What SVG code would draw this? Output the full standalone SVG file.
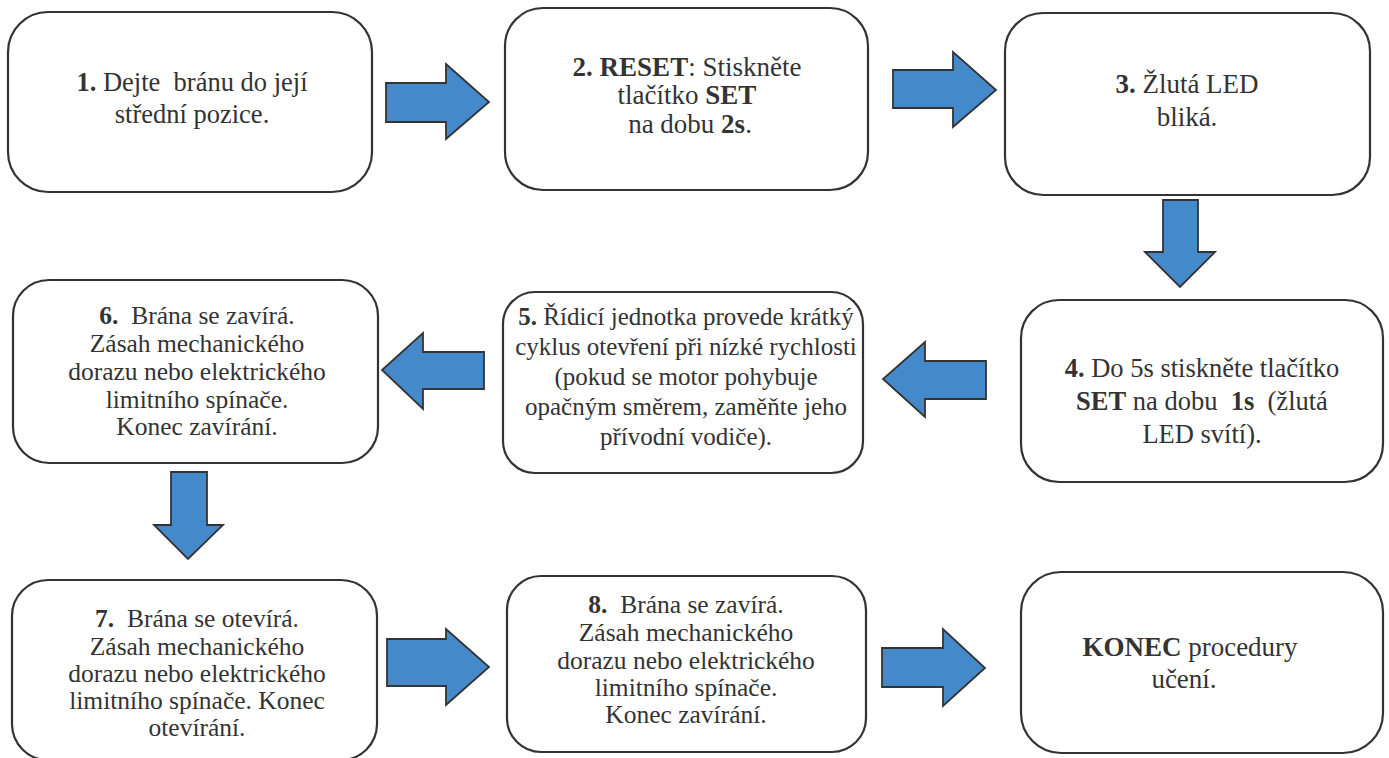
<svg xmlns="http://www.w3.org/2000/svg" width="1389" height="758" viewBox="0 0 1389 758">
  <style>
    .box { fill: #ffffff; stroke: #333333; stroke-width: 2.2; }
    .arrow { fill: #4489c9; stroke: #333333; stroke-width: 1.8; stroke-linejoin: miter; }
    .lbl { fill: #333333; text-anchor: middle; white-space: pre; }
    .b { font-weight: bold; }
  </style>
  <rect width="1389" height="758" fill="#ffffff"/>

  <!-- connectors: block arrows between steps -->
  <g id="connectors">
    <polygon class="arrow" points="386,83 446,83 446,64 489,102 446,139 446,122 386,122"/>
    <polygon class="arrow" points="893,70 953,70 953,52 996,90 953,127 953,108 893,108"/>
    <polygon class="arrow" points="1163,200 1198,200 1198,252 1215,252 1180,287 1145,252 1163,252"/>
    <polygon class="arrow" points="986,361 925,361 925,342 883,379 925,417 925,399 986,399"/>
    <polygon class="arrow" points="484,352 423,352 423,333 382,370 423,409 423,389 484,389"/>
    <polygon class="arrow" points="171,472 207,472 207,525 223,525 188,559 154,525 171,525"/>
    <polygon class="arrow" points="387,639 446,639 446,629 489,667 446,705 446,686 387,686"/>
    <polygon class="arrow" points="882,648 943,648 943,629 985,668 943,706 943,687 882,687"/>
  </g>

  <g font-family="'Liberation Serif', 'Times New Roman', 'DejaVu Serif', serif">
  <g id="step1">
    <rect class="box" x="8" y="12" width="364" height="180" rx="40" ry="40"/>
    <text class="lbl" x="192" y="91" font-size="26.5"><tspan class="b">1.</tspan> Dejte  bránu do její</text>
    <text class="lbl" x="192" y="123" font-size="26.5">střední pozice.</text>
  </g>

  <g id="step2">
    <rect class="box" x="505" y="8" width="363" height="182" rx="38" ry="38"/>
    <text class="lbl" x="687" y="76" font-size="27"><tspan class="b">2. RESET</tspan>: Stiskněte</text>
    <text class="lbl" x="687" y="104" font-size="27">tlačítko <tspan class="b">SET</tspan></text>
    <text class="lbl" x="690" y="133" font-size="27">na dobu <tspan class="b">2s</tspan>.</text>
  </g>

  <g id="step3">
    <rect class="box" x="1005" y="13" width="365" height="182" rx="38" ry="38"/>
    <text class="lbl" x="1187" y="93" font-size="27"><tspan class="b">3.</tspan> Žlutá LED</text>
    <text class="lbl" x="1187" y="126" font-size="27">bliká.</text>
  </g>

  <g id="step4">
    <rect class="box" x="1021" y="300" width="362" height="182" rx="38" ry="38"/>
    <text class="lbl" x="1202" y="377" font-size="26.5"><tspan class="b">4.</tspan> Do 5s stiskněte tlačítko</text>
    <text class="lbl" x="1202" y="410" font-size="26.5"><tspan class="b">SET</tspan> na dobu  <tspan class="b">1s</tspan>  (žlutá</text>
    <text class="lbl" x="1202" y="443" font-size="26.5">LED svítí).</text>
  </g>

  <g id="step5">
    <rect class="box" x="503" y="292" width="360" height="181" rx="32" ry="32"/>
    <text class="lbl" x="686" y="325" font-size="25"><tspan class="b">5.</tspan> Řídicí jednotka provede krátký</text>
    <text class="lbl" x="686" y="355" font-size="25">cyklus otevření při nízké rychlosti</text>
    <text class="lbl" x="686" y="385" font-size="25">(pokud se motor pohybuje</text>
    <text class="lbl" x="686" y="415" font-size="25">opačným směrem, zaměňte jeho</text>
    <text class="lbl" x="686" y="445" font-size="25">přívodní vodiče).</text>
  </g>

  <g id="step6">
    <rect class="box" x="13" y="280" width="365" height="183" rx="36" ry="36"/>
    <text class="lbl" x="197" y="324" font-size="25.5"><tspan class="b">6.</tspan>  Brána se zavírá.</text>
    <text class="lbl" x="197" y="352" font-size="25.5">Zásah mechanického</text>
    <text class="lbl" x="197" y="380" font-size="25.5">dorazu nebo elektrického</text>
    <text class="lbl" x="197" y="408" font-size="25.5">limitního spínače.</text>
    <text class="lbl" x="197" y="435" font-size="25.5">Konec zavírání.</text>
  </g>

  <g id="step7">
    <rect class="box" x="12" y="580" width="365" height="180" rx="36" ry="36"/>
    <text class="lbl" x="197" y="627" font-size="25.5"><tspan class="b">7.</tspan>  Brána se otevírá.</text>
    <text class="lbl" x="197" y="655" font-size="25.5">Zásah mechanického</text>
    <text class="lbl" x="197" y="682" font-size="25.5">dorazu nebo elektrického</text>
    <text class="lbl" x="197" y="709" font-size="25.5">limitního spínače. Konec</text>
    <text class="lbl" x="197" y="736" font-size="25.5">otevírání.</text>
  </g>

  <g id="step8">
    <rect class="box" x="507" y="576" width="359" height="176" rx="34" ry="34"/>
    <text class="lbl" x="686" y="613" font-size="25.5"><tspan class="b">8.</tspan>  Brána se zavírá.</text>
    <text class="lbl" x="686" y="641" font-size="25.5">Zásah mechanického</text>
    <text class="lbl" x="686" y="669" font-size="25.5">dorazu nebo elektrického</text>
    <text class="lbl" x="686" y="696" font-size="25.5">limitního spínače.</text>
    <text class="lbl" x="686" y="723" font-size="25.5">Konec zavírání.</text>
  </g>

  <g id="step9">
    <rect class="box" x="1021" y="572" width="362" height="181" rx="40" ry="40"/>
    <text class="lbl" x="1190" y="656" font-size="27"><tspan class="b">KONEC</tspan> procedury</text>
    <text class="lbl" x="1184" y="688" font-size="27">učení.</text>
  </g>
  </g>
</svg>
